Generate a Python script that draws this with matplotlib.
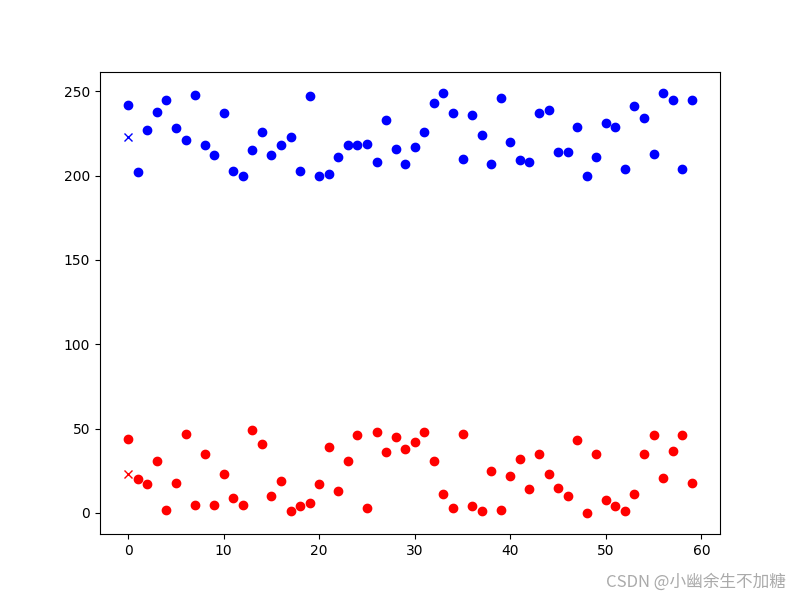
import matplotlib
matplotlib.use('Agg')
import matplotlib.pyplot as plt

# values
blue_y = [242, 202, 227, 238, 245, 228, 221, 248, 218, 212, 237, 203, 200, 215, 226, 212, 218, 223, 203, 247,
          200, 201, 211, 218, 218, 219, 208, 233, 216, 207, 217, 226, 243, 249, 237, 210, 236, 224, 207, 246,
          220, 209, 208, 237, 239, 214, 214, 229, 200, 211, 231, 229, 204, 241, 234, 213, 249, 245, 204, 245]
red_y = [44, 20, 17, 31, 2, 18, 47, 5, 35, 5, 23, 9, 5, 49, 41, 10, 19, 1, 4, 6,
         17, 39, 13, 31, 46, 3, 48, 36, 45, 38, 42, 48, 31, 11, 3, 47, 4, 1, 25, 2,
         22, 32, 14, 35, 23, 15, 10, 43, 0, 35, 8, 4, 1, 11, 35, 46, 21, 37, 46, 18]
x = list(range(len(blue_y)))
blue_mark = (0, 223)
red_mark = (0, 23)

fig, ax = plt.subplots(figsize=(8, 6), dpi=100)
ax.scatter(x, blue_y, c='blue')
ax.scatter(x, red_y, c='red')
ax.plot(*blue_mark, 'bx')
ax.plot(*red_mark, 'rx')
# 水印
fig.text(0.982, 0.015, 'CSDN @小幽余生不加糖', ha='right', va='bottom', fontsize=12,
         color='#aaaaaa', family=['Noto Sans CJK SC', 'DejaVu Sans'])
plt.savefig('out.png')
